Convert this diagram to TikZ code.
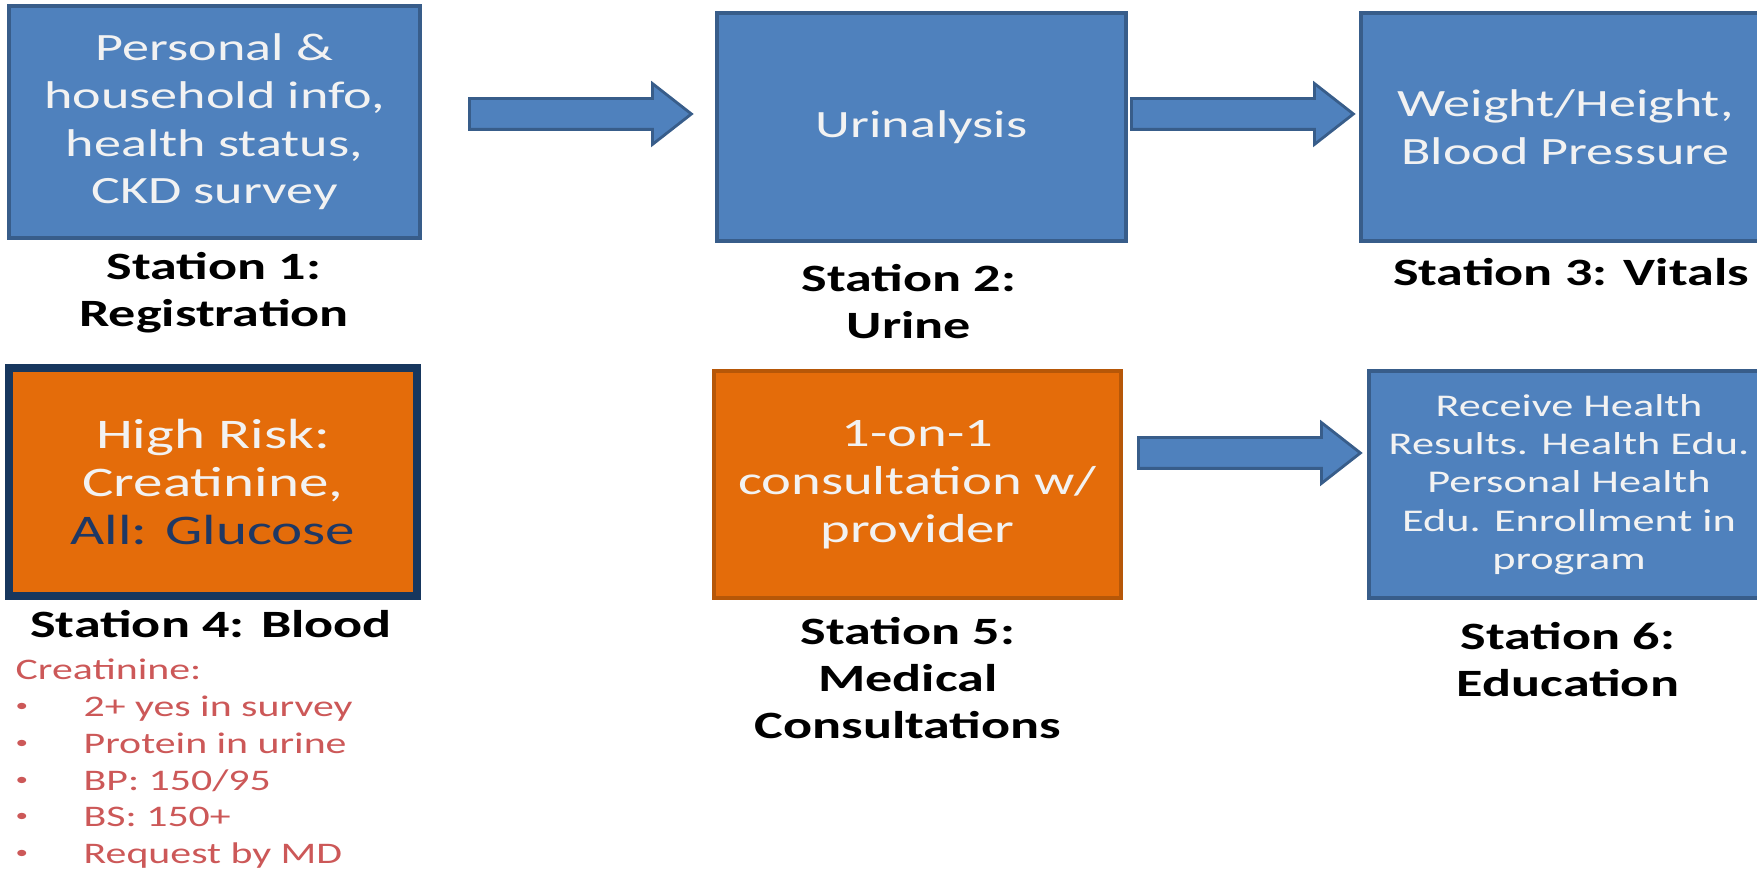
\documentclass[tikz,border=0pt]{standalone}
\usepackage{fontspec}
\usepackage{graphicx}
\setmainfont{Carlito}[FakeStretch=1.4]
\usetikzlibrary{shapes.arrows}

\definecolor{boxblue}{RGB}{79,129,189}
\definecolor{blueedge}{RGB}{56,93,138}
\definecolor{boxorange}{RGB}{228,108,10}
\definecolor{orangeedge}{RGB}{182,87,8}
\definecolor{navyedge}{RGB}{23,55,94}
\definecolor{glucosenavy}{RGB}{31,56,100}
\definecolor{boxtext}{RGB}{242,242,242}
\definecolor{listred}{RGB}{204,88,88}

\newcommand{\critbullet}{\makebox[0.68cm][l]{\raisebox{0.35ex}{\scalebox{0.6}{\textbullet}}}}

\begin{document}
\begin{tikzpicture}[scale=1.0]

%-------------------------------------------------
% Styles
%-------------------------------------------------
\tikzset{
  bluebox/.style={rectangle, draw=blueedge, fill=boxblue, line width=1pt,
    text=boxtext, align=center, inner sep=2pt,
    font=\fontsize{11}{13.6}\selectfont},
  orangebox/.style={bluebox, draw=orangeedge, fill=boxorange},
  stationlabel/.style={align=center, text=black,
    font=\bfseries\fontsize{11}{13.4}\selectfont},
  flowarrow/.style={single arrow, draw=blueedge, fill=boxblue, line width=0.8pt,
    inner sep=0pt, text height=0.28cm, text depth=0pt,
    single arrow head extend=0.15cm, single arrow tip angle=76,
    minimum height=2.22cm, anchor=tail}
}

\useasboundingbox (0,0) rectangle (17.57,8.70);

%-------------------------------------------------
% TOP ROW (stations 1 to 3)
%-------------------------------------------------
\node[bluebox, minimum width=4.11cm, minimum height=2.32cm] (reg) at (2.145,7.48)
  {Personal \&\\household info,\\health status,\\CKD survey};
\node[bluebox, minimum width=4.09cm, minimum height=2.28cm] (uri) at (9.215,7.43)
  {Urinalysis};
\node[bluebox, minimum width=4.09cm, minimum height=2.28cm] (vit) at (15.655,7.43)
  {Weight/Height,\\Blood Pressure};

% Block arrows
\node[flowarrow] (arrA) at (4.68,7.56) {};
\node[flowarrow] (arrB) at (11.30,7.56) {};

% Station names
\node[stationlabel] (lblReg) at (2.14,5.77) {Station 1:\\Registration};
\node[stationlabel] (lblUri) at (9.09,5.68) {Station 2:\\Urine};
\node[stationlabel] (lblVit) at (15.71,5.98) {Station 3: Vitals};

%-------------------------------------------------
% BOTTOM ROW (stations 4 to 6)
%-------------------------------------------------
\node[orangebox, draw=navyedge, line width=2.2pt, minimum width=4.08cm, minimum height=2.28cm,
  font=\fontsize{12}{13.6}\selectfont] (bld) at (2.13,3.88)
  {High Risk:\\Creatinine,\\{\color{glucosenavy}All: Glucose}};
\node[orangebox, minimum width=4.07cm, minimum height=2.27cm,
  font=\fontsize{11.5}{13.6}\selectfont] (con) at (9.175,3.855)
  {1-on-1\\consultation w/\\provider};
\node[bluebox, minimum width=4.0cm, minimum height=2.27cm,
  font=\fontsize{9}{10.9}\selectfont] (edu) at (15.69,3.855)
  {Receive Health\\Results. Health Edu.\\Personal Health\\Edu. Enrollment in\\program};

% Block arrow
\node[flowarrow] (arrC) at (11.37,4.17) {};

% Station names
\node[stationlabel] (lblBld) at (2.11,2.46) {Station 4: Blood};
\node[stationlabel] (lblCon) at (9.08,1.92) {Station 5:\\Medical\\Consultations};
\node[stationlabel] (lblEdu) at (15.68,2.10) {Station 6:\\Education};

% Creatinine criteria
\node[anchor=north west, align=left, inner sep=0pt, text=listred,
  font=\fontsize{8.5}{10.5}\selectfont] (crit) at (0.15,2.12)
  {Creatinine:\\
   \critbullet 2+ yes in survey\\
   \critbullet Protein in urine\\
   \critbullet BP: 150/95\\
   \critbullet BS: 150+\\
   \critbullet Request by MD};

\end{tikzpicture}
\end{document}
